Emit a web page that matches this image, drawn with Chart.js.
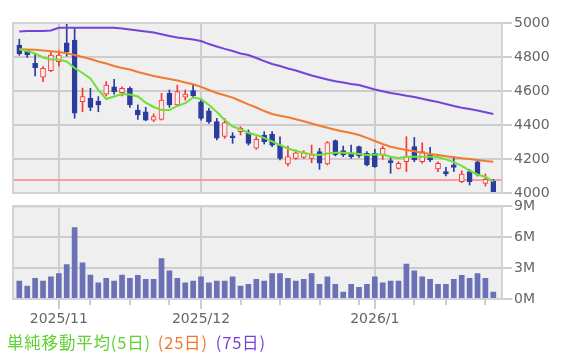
<!DOCTYPE html>
<html>
<head>
<meta charset="utf-8">
<script src="https://cdn.jsdelivr.net/npm/chart.js@4"></script>
<style>
  html, body { margin: 0; padding: 0; background: #fff; }
  #wrap { position: relative; width: 566px; height: 355px; overflow: hidden; }
  #price { position: absolute; left: 0; top: 0; }
  #vol { position: absolute; left: 0; top: 196px; }
  #ma-legend {
    position: absolute; left: 7px; top: 332px;
    font-family: "Noto Sans CJK JP", sans-serif; font-size: 16.5px; line-height: 20px;
    white-space: nowrap;
  }
  #ma-legend span { letter-spacing: 0.8px; }
</style>
</head>
<body>
<div id="wrap">
  <canvas id="price" width="566" height="210"></canvas>
  <canvas id="vol" width="566" height="134"></canvas>
  <div id="ma-legend"><span style="color:#5fd130">単純移動平均(5日)</span><span style="color:#f0782c;margin-left:7px">(25日)</span><span style="color:#7442d6;margin-left:8px">(75日)</span></div>
</div>
<script>
// trading days shown on the chart
const dates = [
  '2025-10-27','2025-10-28','2025-10-29','2025-10-30','2025-10-31',
  '2025-11-04','2025-11-05','2025-11-06','2025-11-07',
  '2025-11-10','2025-11-11','2025-11-12','2025-11-13','2025-11-14',
  '2025-11-17','2025-11-18','2025-11-19','2025-11-20','2025-11-21',
  '2025-11-25','2025-11-26','2025-11-27','2025-11-28',
  '2025-12-01','2025-12-02','2025-12-03','2025-12-04','2025-12-05',
  '2025-12-08','2025-12-09','2025-12-10','2025-12-11','2025-12-12',
  '2025-12-15','2025-12-16','2025-12-17','2025-12-18','2025-12-19',
  '2025-12-22','2025-12-23','2025-12-24','2025-12-25','2025-12-26',
  '2025-12-29','2025-12-30',
  '2026-01-05','2026-01-06','2026-01-07','2026-01-08','2026-01-09',
  '2026-01-13','2026-01-14','2026-01-15','2026-01-16',
  '2026-01-19','2026-01-20','2026-01-21','2026-01-22','2026-01-23',
  '2026-01-26','2026-01-27'
];

const open  = [4870,4841,4763,4681,4720,4772,4884,4900,4537,4557,4541,4582,4625,4590,4616,4488,4478,4429,4433,4586,
               4518,4563,4602,4537,4484,4420,4333,4337,4361,4355,4263,4341,4347,4282,4171,4204,4210,4204,4243,4171,
               4308,4249,4237,4273,4233,4233,4224,4190,4145,4184,4273,4184,4224,4141,4126,4165,4067,4126,4184,4057,4070];
const high  = [4905,4845,4822,4743,4831,4837,4998,4969,4617,4616,4567,4655,4669,4625,4625,4518,4504,4465,4586,4606,
               4635,4606,4635,4547,4498,4439,4439,4355,4390,4371,4331,4361,4361,4331,4276,4253,4249,4282,4263,4302,
               4312,4276,4282,4276,4243,4257,4276,4214,4184,4331,4327,4296,4269,4184,4151,4214,4131,4139,4194,4112,4080];
const low   = [4810,4798,4688,4655,4714,4747,4805,4440,4478,4484,4478,4571,4582,4571,4504,4433,4425,4420,4429,4504,
               4512,4547,4563,4429,4410,4312,4322,4292,4341,4282,4257,4288,4272,4194,4159,4198,4204,4178,4139,4165,
               4218,4214,4204,4210,4159,4151,4198,4116,4141,4126,4184,4175,4184,4126,4100,4126,4061,4047,4100,4041,4000];
const close = [4820,4812,4737,4734,4812,4812,4831,4470,4567,4504,4518,4635,4596,4616,4518,4459,4429,4449,4547,4518,
               4596,4582,4571,4439,4420,4322,4414,4325,4380,4292,4316,4302,4282,4204,4214,4237,4237,4224,4175,4296,
               4224,4224,4214,4218,4165,4155,4263,4178,4175,4214,4194,4243,4194,4175,4112,4151,4112,4067,4106,4080,4003];

// moving averages
const ma5  = [4845,4835,4821,4797,4786,4785,4774,4735,4706,4674,4606,4553,4568,4582,4579,4568,4532,4506,4488,4488,
              4512,4529,4562,4553,4518,4476,4429,4391,4376,4353,4341,4324,4303,4282,4262,4247,4237,4226,4224,4232,
              4237,4237,4234,4229,4224,4226,4226,4213,4206,4213,4213,4213,4213,4212,4198,4182,4159,4132,4109,4094,4068];
const ma25 = [4845,4844,4842,4838,4834,4829,4822,4812,4800,4788,4774,4762,4747,4735,4726,4712,4700,4688,4679,4671,
              4662,4650,4640,4624,4606,4588,4575,4561,4541,4521,4503,4482,4465,4455,4445,4434,4422,4409,4396,4384,
              4372,4362,4353,4341,4324,4306,4288,4272,4262,4253,4245,4237,4229,4224,4216,4210,4204,4200,4194,4188,4184];
const ma75 = [4950,4953,4953,4953,4956,4972,4972,4972,4972,4972,4972,4972,4972,4968,4962,4956,4950,4944,4934,4924,
              4915,4909,4903,4894,4876,4862,4848,4835,4821,4812,4794,4776,4759,4747,4732,4721,4706,4691,4679,4668,
              4657,4650,4641,4635,4622,4609,4598,4588,4581,4572,4565,4554,4544,4535,4524,4512,4502,4494,4485,4475,4465];

// volume in millions of shares
const volume = [1.74,1.26,2.00,1.74,2.16,2.48,3.35,6.94,3.52,2.32,1.58,2.00,1.74,2.32,2.00,2.29,1.90,1.90,3.94,2.74,
                2.00,1.58,1.74,2.16,1.58,1.74,1.74,2.16,1.26,1.42,1.90,1.74,2.48,2.48,2.00,1.74,1.90,2.48,1.42,2.16,
                1.42,0.68,1.42,1.13,1.42,2.16,1.58,1.74,1.74,3.39,2.74,2.16,1.90,1.42,1.42,1.90,2.29,2.00,2.48,2.00,0.68];

const refLine = 4076;
const priceTicks = [4000, 4200, 4400, 4600, 4800, 5000];
const volTicks = [0, 3, 6, 9];

// colours
const UP = '#ff3333', DOWN = '#2c3c9e', PANEL = '#efefef', GRID = '#cdcdcd';

Chart.defaults.font.family = 'DejaVu Sans';
Chart.defaults.animation = false;

const days = dates.map(s => new Date(s + 'T00:00:00'));
const monthStarts = [], weekStarts = [];
days.forEach((d, i) => {
  if (i === 0) return;
  const p = days[i - 1];
  if (d.getMonth() !== p.getMonth()) monthStarts.push(i);
  else if (d.getDay() < p.getDay() || (d - p) > 4 * 864e5) weekStarts.push(i);
});
const monthLabel = i => days[i].getFullYear() + '/' + (days[i].getMonth() + 1);

const xMin = -0.8, xMax = 61.1;

const panelPlugin = {
  id: 'panel',
  beforeDraw(chart) {
    const { ctx, chartArea: a } = chart;
    ctx.save();
    ctx.fillStyle = PANEL;
    ctx.fillRect(a.left, a.top, a.right - a.left, a.bottom - a.top);
    ctx.restore();
  },
  afterDraw(chart) {
    const { ctx, chartArea: a } = chart;
    ctx.save();
    ctx.strokeStyle = '#d2d2d2';
    ctx.lineWidth = 2;
    ctx.strokeRect(a.left, a.top, a.right - a.left, a.bottom - a.top);
    ctx.restore();
  }
};

// month grid lines + weekly tick marks, placed with the x scale
const monthGridPlugin = {
  id: 'monthGrid',
  beforeDatasetsDraw(chart, args, opts) {
    const { ctx, chartArea: a, scales } = chart;
    const x = scales.x;
    ctx.save();
    ctx.lineWidth = 2;
    ctx.strokeStyle = GRID;
    monthStarts.forEach(i => {
      const px = Math.round(x.getPixelForValue(i));
      ctx.beginPath();
      ctx.moveTo(px, a.top);
      ctx.lineTo(px, a.bottom + (opts.monthTick || 0));
      ctx.stroke();
    });
    if (opts.weekTick) {
      weekStarts.forEach(i => {
        const px = Math.round(x.getPixelForValue(i));
        ctx.beginPath();
        ctx.moveTo(px, a.bottom);
        ctx.lineTo(px, a.bottom + opts.weekTick);
        ctx.stroke();
      });
    }
    ctx.restore();
  }
};

const isUp = i => close[i] >= open[i];

new Chart(document.getElementById('price'), {
  type: 'bar',
  data: {
    datasets: [
      {
        type: 'line', data: ma5.map((v, i) => ({ x: i, y: v })),
        borderColor: '#6ee036', borderWidth: 2, pointRadius: 0, order: 0
      },
      {
        type: 'line', data: ma25.map((v, i) => ({ x: i, y: v })),
        borderColor: '#ef7b30', borderWidth: 2, pointRadius: 0, order: 0
      },
      {
        type: 'line', data: ma75.map((v, i) => ({ x: i, y: v })),
        borderColor: '#7443d8', borderWidth: 2, pointRadius: 0, order: 0
      },
      {
        // candle bodies
        data: open.map((o, i) => ({ x: i, y: [o, close[i]] })),
        backgroundColor: open.map((o, i) => isUp(i) ? '#f7eeee' : DOWN),
        borderColor: open.map((o, i) => isUp(i) ? UP : DOWN),
        borderWidth: 1, borderSkipped: false,
        barThickness: 5, grouped: false, order: 1
      },
      {
        // wicks
        data: low.map((l, i) => ({ x: i, y: [l, high[i]] })),
        backgroundColor: open.map((o, i) => isUp(i) ? UP : DOWN),
        borderWidth: 0, barThickness: 1, grouped: false, order: 2
      },
      {
        type: 'line', data: [{ x: xMin, y: refLine }, { x: xMax, y: refLine }],
        borderColor: '#ff9a9a', borderWidth: 2, pointRadius: 0, order: 3
      }
    ]
  },
  options: {
    responsive: false,
    devicePixelRatio: 1,
    layout: { padding: { left: 13, top: 23, right: 0, bottom: 17 } },
    plugins: { legend: { display: false }, tooltip: { enabled: false }, monthGrid: { monthTick: 0 } },
    scales: {
      x: {
        type: 'linear', min: xMin, max: xMax, offset: false,
        grid: { display: false, drawTicks: false },
        border: { display: false },
        ticks: { display: false },
        afterFit: axis => { axis.height = 0; }
      },
      y: {
        position: 'right', min: 4000, max: 5000,
        afterBuildTicks: axis => { axis.ticks = priceTicks.map(v => ({ value: v })); },
        grid: { color: GRID, lineWidth: 2, tickLength: 10, tickColor: GRID },
        border: { display: false },
        ticks: { color: '#666', padding: 2, font: { size: 14 }, callback: v => String(v) },
        afterFit: axis => { axis.width = 64; }
      }
    }
  },
  plugins: [panelPlugin, monthGridPlugin]
});

new Chart(document.getElementById('vol'), {
  type: 'bar',
  data: {
    datasets: [{
      data: volume.map((v, i) => ({ x: i, y: v })),
      backgroundColor: '#6a71b6',
      barThickness: 5
    }]
  },
  options: {
    responsive: false,
    devicePixelRatio: 1,
    layout: { padding: { left: 13, top: 10, right: 0, bottom: 0 } },
    plugins: { legend: { display: false }, tooltip: { enabled: false }, monthGrid: { monthTick: 10, weekTick: 6 } },
    scales: {
      x: {
        type: 'linear', min: xMin, max: xMax, offset: false,
        afterBuildTicks: axis => { axis.ticks = monthStarts.map(v => ({ value: v })); },
        grid: { display: false, drawTicks: false },
        border: { display: false },
        ticks: {
          autoSkip: false, maxRotation: 0, color: '#666', padding: 12, font: { size: 14 },
          callback: v => monthLabel(v)
        },
        afterFit: axis => { axis.height = 31; }
      },
      y: {
        position: 'right', min: 0, max: 9,
        afterBuildTicks: axis => { axis.ticks = volTicks.map(v => ({ value: v })); },
        grid: { color: GRID, lineWidth: 2, tickLength: 10, tickColor: GRID },
        border: { display: false },
        ticks: { color: '#666', padding: 2, font: { size: 14 }, callback: v => v + 'M' },
        afterFit: axis => { axis.width = 64; }
      }
    }
  },
  plugins: [panelPlugin, monthGridPlugin]
});
</script>
</body>
</html>
